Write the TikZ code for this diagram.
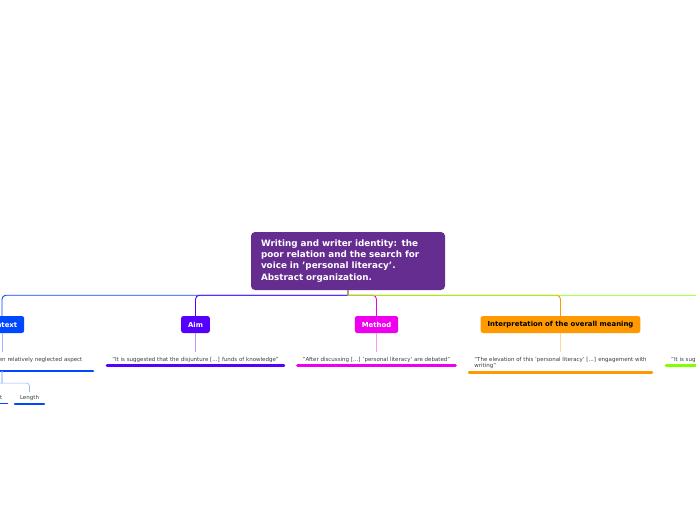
\documentclass[tikz,border=0pt]{standalone}
\usepackage{fontspec}
\setmainfont{DejaVu Sans}
\usepackage{xcolor}
\definecolor{mmroot}{RGB}{102,45,145}
\definecolor{mmblue}{RGB}{0,72,255}
\definecolor{mmviolet}{RGB}{85,0,255}
\definecolor{mmmagenta}{RGB}{238,0,238}
\definecolor{mmorange}{RGB}{255,153,0}
\definecolor{mmgreen}{RGB}{127,255,0}
\definecolor{mmtext}{RGB}{60,60,60}
\usetikzlibrary{positioning,calc}

\begin{document}
\begin{tikzpicture}[
  x=1pt, y=-1pt,
  rootbox/.style={fill=mmroot,rounded corners=4pt,text=white,align=left,
                  font=\bfseries\fontsize{8.8}{11.2}\selectfont,
                  minimum width=194pt,minimum height=58pt,text width=174pt,inner xsep=10pt},
  topic/.style={rounded corners=2.5pt,minimum height=17pt,inner xsep=7pt,
                font=\bfseries\fontsize{6.9}{8}\selectfont,text=white},
  note/.style={anchor=north,align=left,text=mmtext,inner xsep=5pt,inner ysep=3pt,
               font=\fontsize{5.5}{6.5}\selectfont},
  subnote/.style={anchor=north,text=mmtext,inner xsep=5pt,inner ysep=3pt,
                  font=\fontsize{5.5}{6.5}\selectfont},
  branch/.style={line width=0.9pt},
  stem/.style={line width=0.6pt},
  uline/.style={line width=2.6pt,line cap=round},
  subline/.style={line width=1.8pt,line cap=round},
]
  \useasboundingbox (0,0) rectangle (696,520);

  % Root
  \node[rootbox] (root) at (348,261) {Writing and writer identity: the\\
    poor relation and the search for\\ voice in 'personal literacy'.\\ Abstract organization.};

  % Topics
  \node[topic,fill=mmblue] (context) at (2,324.5) {Context};
  \node[topic,fill=mmviolet] (aim) at (195.5,324.5) {Aim};
  \node[topic,fill=mmmagenta] (method) at (376.5,324.5) {Method};
  \node[topic,fill=mmorange,text=black] (interp) at (560.5,324.5) {Interpretation of the overall meaning};
  \coordinate (result) at (780,316);

  % Branches from the root
  \draw[branch,mmblue] (root.south) -- ++(0,5) [rounded corners=4pt] -| (context.north);
  \draw[branch,mmviolet] (root.south) -- ++(0,5) [rounded corners=4pt] -| (aim.north);
  \draw[branch,mmmagenta] (root.south) -- ++(0,5) [rounded corners=4pt] -| (method.north);
  \draw[branch,mmorange] (root.south) -- ++(0,5) [rounded corners=4pt] -| (interp.north);
  \draw[branch,mmgreen] (root.south) -- ++(0,5) [rounded corners=4pt] -| (result);

  % Notes
  \node[note,anchor=north east,text width=89pt] (ctxnote) at (93,354) {en relatively neglected aspect\\ \mbox{}};
  \node[note] (aimnote) at (195.5,354) {"It is suggested that the disjunture [...] funds of knowledge"};
  \node[note] (methodnote) at (376.5,354) {"After discussing [...] 'personal literacy' are debated"};
  \node[note] (interpnote) at (560.5,354) {"The elevation of this 'personal literacy' [...] engagement with\\ writing"};
  \node[note,anchor=north west] (resnote) at (666,354) {"It is sug};

  \draw[stem,mmblue!40] (context.south) -- ([yshift=2pt]context.south |- ctxnote.north);
  \draw[stem,mmviolet!40] (aim.south) -- ([yshift=2pt]aimnote.north);
  \draw[stem,mmmagenta!40] (method.south) -- ([yshift=2pt]methodnote.north);
  \draw[stem,mmorange!40] (interp.south) -- ([yshift=2pt]interpnote.north);

  \draw[uline,mmblue] (ctxnote.south west) -- (ctxnote.south east);
  \draw[uline,mmviolet] (aimnote.south west) -- (aimnote.south east);
  \draw[uline,mmmagenta] (methodnote.south west) -- (methodnote.south east);
  \draw[uline,mmorange] (interpnote.south west) -- (interpnote.south east);
  \draw[uline,mmgreen] (resnote.south west) -- (resnote.south east);

  % Sub-items of Context
  \node[subnote] (aspect) at (-7,392) {Aspect};
  \node[subnote] (length) at (29.5,392) {Length};
  \draw[stem,mmblue!40] (context.south |- ctxnote.south) -- ++(0,12) [rounded corners=3pt] -| (aspect.north);
  \draw[stem,mmblue!40] (context.south |- ctxnote.south) -- ++(0,12) [rounded corners=3pt] -| (length.north);
  \draw[subline,mmblue] (aspect.south west) -- (aspect.south east);
  \draw[subline,mmblue] (length.south west) -- (length.south east);
\end{tikzpicture}
\end{document}
